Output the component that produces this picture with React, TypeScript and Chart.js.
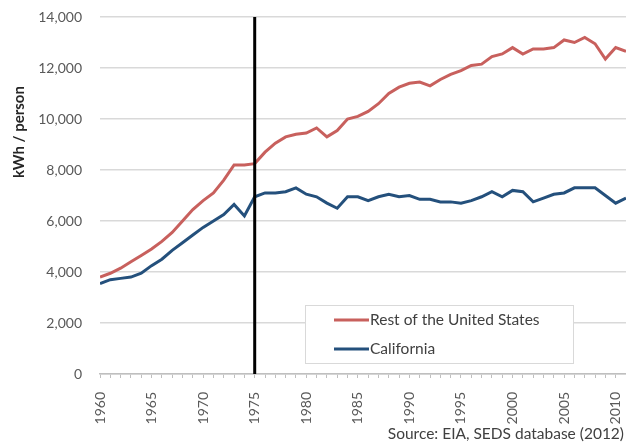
import React, { useEffect, useRef } from 'react';
import { Chart, registerables } from 'chart.js';

Chart.register(...registerables);

const years = [
  1960, 1961, 1962, 1963, 1964, 1965, 1966, 1967, 1968, 1969,
  1970, 1971, 1972, 1973, 1974, 1975, 1976, 1977, 1978, 1979,
  1980, 1981, 1982, 1983, 1984, 1985, 1986, 1987, 1988, 1989,
  1990, 1991, 1992, 1993, 1994, 1995, 1996, 1997, 1998, 1999,
  2000, 2001, 2002, 2003, 2004, 2005, 2006, 2007, 2008, 2009,
  2010, 2011,
];

const restOfUS = [
  3800, 3950, 4150, 4400, 4650, 4900, 5200, 5550, 6000, 6450,
  6800, 7100, 7600, 8200, 8200, 8250, 8700, 9050, 9300, 9400,
  9450, 9650, 9300, 9550, 10000, 10100, 10300, 10600, 11000, 11250,
  11400, 11450, 11300, 11550, 11750, 11900, 12100, 12150, 12450, 12550,
  12800, 12550, 12750, 12750, 12800, 13100, 13000, 13200, 12950, 12350,
  12800, 12650,
];

const california = [
  3550, 3700, 3750, 3800, 3950, 4250, 4500, 4850, 5150, 5450,
  5750, 6000, 6250, 6650, 6200, 6950, 7100, 7100, 7150, 7300,
  7050, 6950, 6700, 6500, 6950, 6950, 6800, 6950, 7050, 6950,
  7000, 6850, 6850, 6750, 6750, 6700, 6800, 6950, 7150, 6950,
  7200, 7150, 6750, 6900, 7050, 7100, 7300, 7300, 7300, 7000,
  6700, 6900,
];

const seriesLabels = ['Rest of the United States', 'California'];
const seriesColors = ['#c8605d', '#24507c'];
const yMin = 0;
const yMax = 14000;
const yStep = 2000;
const labelEvery = 5;
const markerYear = 1975;
const yTitle = 'kWh / person';
const sourceNote = 'Source: EIA, SEDS database (2012)';

const FONT = 'Lato, "Open Sans", sans-serif';
const TEXT = '#595959';

const markerPlugin = {
  id: 'marker',
  afterDatasetsDraw(chart: any) {
    const { ctx, chartArea, scales } = chart;
    const x = scales.x.getPixelForValue(markerYear);
    ctx.save();
    ctx.strokeStyle = '#000000';
    ctx.lineWidth = 3;
    ctx.beginPath();
    ctx.moveTo(x, chartArea.top);
    ctx.lineTo(x, chartArea.bottom);
    ctx.stroke();
    ctx.restore();
  },
};

const legendPlugin = {
  id: 'boxLegend',
  afterDraw(chart: any) {
    const { ctx } = chart;
    const bx = 305, by = 305, bw = 268, bh = 58;
    ctx.save();
    ctx.fillStyle = '#ffffff';
    ctx.fillRect(bx, by, bw, bh);
    ctx.strokeStyle = '#d9d9d9';
    ctx.lineWidth = 1;
    ctx.strokeRect(bx + 0.5, by + 0.5, bw, bh);
    ctx.font = `15.5px ${FONT}`;
    ctx.textBaseline = 'middle';
    ctx.textAlign = 'left';
    const rows = [by + 15, by + 44];
    seriesLabels.forEach((label, i) => {
      ctx.strokeStyle = seriesColors[i];
      ctx.lineWidth = 3;
      ctx.beginPath();
      ctx.moveTo(bx + 29, rows[i]);
      ctx.lineTo(bx + 64, rows[i]);
      ctx.stroke();
      ctx.fillStyle = '#404040';
      ctx.fillText(label, bx + 65, rows[i]);
    });
    ctx.restore();
  },
};

const textPlugin = {
  id: 'extraText',
  afterDraw(chart: any) {
    const { ctx, width } = chart;
    ctx.save();
    ctx.font = `15.5px ${FONT}`;
    ctx.fillStyle = '#404040';
    ctx.textAlign = 'right';
    ctx.textBaseline = 'middle';
    ctx.fillText(sourceNote, width - 2, 434);
    ctx.restore();

    ctx.save();
    ctx.translate(19, 132);
    ctx.rotate(-Math.PI / 2);
    ctx.font = `bold 15px ${FONT}`;
    ctx.fillStyle = '#262626';
    ctx.textAlign = 'center';
    ctx.textBaseline = 'middle';
    ctx.fillText(yTitle, 0, 0);
    ctx.restore();
  },
};

export default function App() {
  const ref = useRef<HTMLCanvasElement | null>(null);

  useEffect(() => {
    if (!ref.current) return;
    const chart = new Chart(ref.current, {
      type: 'line',
      data: {
        datasets: [
          {
            label: seriesLabels[0],
            data: years.map((yr, i) => ({ x: yr, y: restOfUS[i] })),
            borderColor: seriesColors[0],
            backgroundColor: seriesColors[0],
            borderWidth: 3,
            pointRadius: 0,
            tension: 0,
          },
          {
            label: seriesLabels[1],
            data: years.map((yr, i) => ({ x: yr, y: california[i] })),
            borderColor: seriesColors[1],
            backgroundColor: seriesColors[1],
            borderWidth: 3,
            pointRadius: 0,
            tension: 0,
          },
        ],
      },
      options: {
        responsive: false,
        animation: false,
        layout: { padding: { top: 17, right: 0, bottom: 0, left: 0 } },
        plugins: {
          legend: { display: false },
          tooltip: { enabled: false },
          title: { display: false },
        },
        scales: {
          x: {
            type: 'linear',
            min: years[0],
            max: years[years.length - 1],
            afterFit: (s: any) => {
              s.height = 70;
              s.paddingLeft = 0;
              s.paddingRight = 0;
            },
            grid: { drawOnChartArea: false, drawTicks: true, tickLength: 4, color: '#bfbfbf' },
            border: { display: true, color: '#bfbfbf', width: 1.5 },
            ticks: {
              stepSize: 1,
              autoSkip: false,
              minRotation: 90,
              maxRotation: 90,
              padding: 14,
              color: TEXT,
              font: { family: FONT, size: 14 },
              callback: (v: any) => (Number(v) % labelEvery === 0 ? String(v) : ''),
            },
          },
          y: {
            min: yMin,
            max: yMax,
            afterFit: (s: any) => {
              s.width = 100;
              s.paddingTop = 0;
              s.paddingBottom = 0;
            },
            grid: { color: '#d9d9d9', lineWidth: 1.5, drawTicks: false },
            border: { display: false },
            ticks: {
              stepSize: yStep,
              padding: 18,
              color: TEXT,
              font: { family: FONT, size: 14 },
            },
          },
        },
      },
      plugins: [markerPlugin, legendPlugin, textPlugin],
    } as any);
    return () => chart.destroy();
  }, []);

  return (
    <div style={{ position: 'fixed', left: 0, top: 0, width: 626, height: 444, background: '#fff' }}>
      <canvas ref={ref} width={626} height={444} style={{ display: 'block' }} />
    </div>
  );
}
